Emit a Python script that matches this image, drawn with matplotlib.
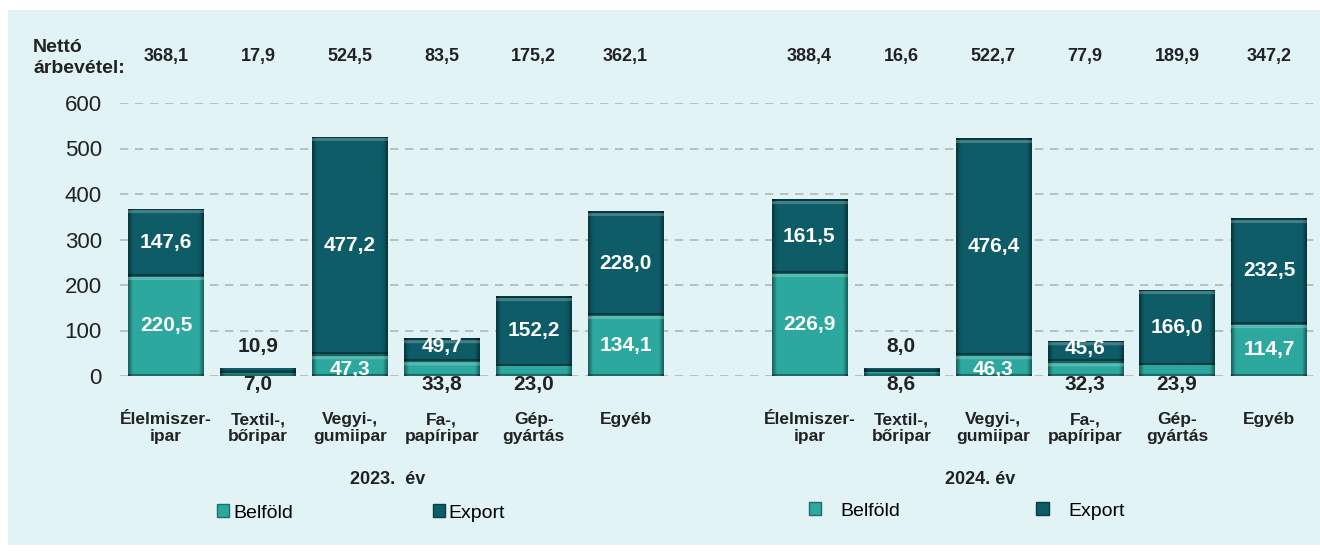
#!/usr/bin/env python3
import numpy as np
import matplotlib.pyplot as plt
from matplotlib.colors import to_rgb
from matplotlib.patches import Rectangle, Patch
from matplotlib.transforms import blended_transform_factory

plt.rcParams['font.family'] = ['Liberation Sans', 'DejaVu Sans']

# %% data (milliárd Ft)
categories = ['Élelmiszer-\nipar', 'Textil-,\nbőripar', 'Vegyi-,\ngumiipar',
              'Fa-,\npapíripar', 'Gép-\ngyártás', 'Egyéb']
belfold_2023 = [220.5, 7.0, 47.3, 33.8, 23.0, 134.1]
export_2023 = [147.6, 10.9, 477.2, 49.7, 152.2, 228.0]
total_2023 = [368.1, 17.9, 524.5, 83.5, 175.2, 362.1]
belfold_2024 = [226.9, 8.6, 46.3, 32.3, 23.9, 114.7]
export_2024 = [161.5, 8.0, 476.4, 45.6, 166.0, 232.5]
total_2024 = [388.4, 16.6, 522.7, 77.9, 189.9, 347.2]
years = ['2023.  év', '2024. év']

c_bel = '#2ca89f'
c_exp = '#0e5c67'
bg = '#e2f3f5'
txt = '#222222'


def fmt(v):
    return f'{v:.1f}'.replace('.', ',')


def bevel(ax, rect, base, px_per_x, px_per_y):
    # fake the glossy 3D look of the original bars
    x, y, w, h = rect.get_x(), rect.get_y(), rect.get_width(), rect.get_height()
    nx = max(2, int(w * px_per_x))
    ny = max(2, int(h * px_per_y))
    col = np.array(to_rgb(base))
    u = np.arange(nx) + 0.5
    edge = np.minimum(u, nx - u)
    fh = 0.55 + 0.45 * np.clip(edge / 5.0, 0, 1)
    img = np.ones((ny, nx, 3)) * col
    img *= fh[None, :, None]
    top = ny - (np.arange(ny) + 0.5)  # distance from top in px
    if ny > 12:
        img[top <= 2] *= 0.6
        band = (top > 2) & (top < 5)
        img[band] = img[band] * 0.78 + 0.22
    bot = np.arange(ny) + 0.5
    img[bot < 2] *= 0.65
    im = ax.imshow(np.clip(img, 0, 1), extent=(x, x + w, y, y + h), origin='lower',
                   aspect='auto', interpolation='bilinear', zorder=3.5)
    im.set_clip_path(rect)


# %% figure
fig = plt.figure(figsize=(13.2, 5.52), dpi=100, facecolor='white')
fig.patches.append(Rectangle((8 / 1320, 1 - 545 / 552), 1 - 8 / 1320, (545 - 10) / 552,
                             transform=fig.transFigure, facecolor=bg, edgecolor='none', zorder=-10))
ax = fig.add_axes([120 / 1320, 1 - 376 / 552, (1315 - 120) / 1320, (376 - 103) / 552])
ax.set_facecolor('none')

x23 = np.arange(6)
x24 = np.arange(6) + 7
width = 0.82
px_x = (1315 - 120) / 13.0
px_y = (376 - 103) / 600.0

for xs, bel, exp in [(x23, belfold_2023, export_2023), (x24, belfold_2024, export_2024)]:
    bb = ax.bar(xs, bel, width, color=c_bel, edgecolor='none', zorder=3)
    be = ax.bar(xs, exp, width, bottom=bel, color=c_exp, edgecolor='none', zorder=3)
    for r in bb:
        bevel(ax, r, c_bel, px_x, px_y)
    for r in be:
        bevel(ax, r, c_exp, px_x, px_y)

ax.set_xlim(-0.5, 12.5)
ax.set_ylim(0, 600)
ax.set_yticks(range(0, 601, 100))
ax.tick_params(axis='y', length=0, labelsize=16, pad=13, colors=txt)
ax.yaxis.grid(True, linestyle=(0, (5, 4)), color='#b5b5b5', linewidth=1.2, zorder=0)
ax.set_axisbelow(True)
for s in ax.spines.values():
    s.set_visible(False)

ax.set_xticks(list(x23) + list(x24))
ax.set_xticklabels(categories * 2, fontsize=12.5, fontweight='bold', color=txt, linespacing=1.15)
ax.tick_params(axis='x', length=0, pad=26)

# segment labels
for xs, bel, exp in [(x23, belfold_2023, export_2023), (x24, belfold_2024, export_2024)]:
    for x, b, e in zip(xs, bel, exp):
        if b >= 40:
            ax.text(x, b / 2 if b > 80 else b * 0.32, fmt(b), ha='center', va='center',
                    color='white', fontsize=15, fontweight='bold', zorder=5)
        else:
            ax.text(x, -18, fmt(b), ha='center', va='center',
                    color=txt, fontsize=15, fontweight='bold', zorder=5)
        if e >= 30:
            ax.text(x, b + e / 2 if e > 80 else b + e * 0.62, fmt(e), ha='center', va='center',
                    color='white', fontsize=15, fontweight='bold', zorder=5)
        else:
            ax.text(x, b + e + 48, fmt(e), ha='center', va='center',
                    color=txt, fontsize=15, fontweight='bold', zorder=5)

# totals on top
tr = blended_transform_factory(ax.transData, fig.transFigure)
for xs, tot in [(x23, total_2023), (x24, total_2024)]:
    for x, t in zip(xs, tot):
        ax.text(x, 1 - 57 / 552, fmt(t), transform=tr, ha='center', va='center',
                fontsize=13, fontweight='bold', color=txt)
fig.text(33 / 1320, 1 - 58 / 552, 'Nettó\nárbevétel:', ha='left', va='center',
         fontsize=14, fontweight='bold', color=txt, linespacing=1.3)

# year labels
ax.text(2.41, 1 - 480 / 552, years[0], transform=tr, ha='center', va='center',
        fontsize=13, fontweight='bold', color=txt)
ax.text(8.86, 1 - 480 / 552, years[1], transform=tr, ha='center', va='center',
        fontsize=13, fontweight='bold', color=txt)

# legends
handles = [Patch(facecolor=c_bel, edgecolor='#1e6e6a'), Patch(facecolor=c_exp, edgecolor='#083e47')]
labels = ['Belföld', 'Export']
fig.legend(handles, labels, loc='center left', bbox_to_anchor=(217 / 1320, 1 - 513 / 552),
           ncol=2, frameon=False, fontsize=14, handlelength=0.62, handleheight=0.62,
           handletextpad=0.2, columnspacing=7.2, borderpad=0, borderaxespad=0)
fig.legend(handles, labels, loc='center left', bbox_to_anchor=(809 / 1320, 1 - 511 / 552),
           ncol=2, frameon=False, fontsize=14, handlelength=0.62, handleheight=0.62,
           handletextpad=1.0, columnspacing=7.0, borderpad=0, borderaxespad=0)

fig.savefig('out.png', dpi=100, facecolor='white')
